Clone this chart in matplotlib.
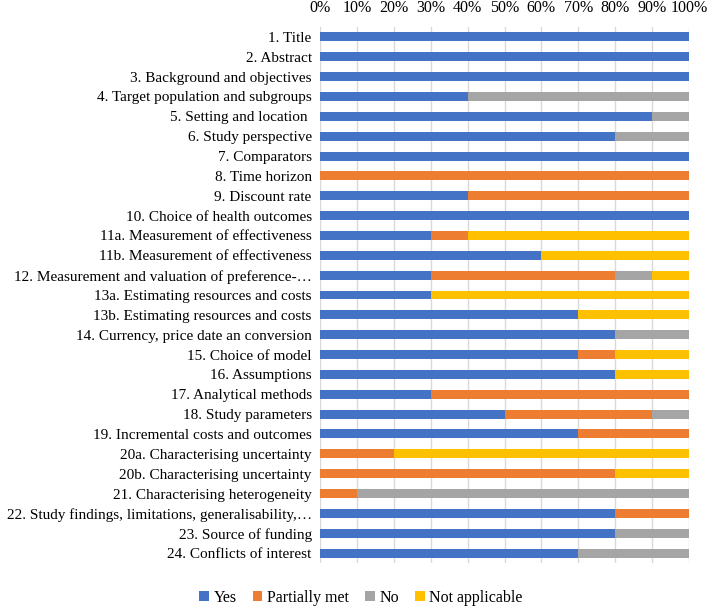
import matplotlib
matplotlib.use("Agg")
import matplotlib.pyplot as plt
import numpy as np

plt.rcParams['font.family'] = ['Liberation Serif', 'DejaVu Serif']

categories = [
    "1. Title", "2. Abstract", "3. Background and objectives",
    "4. Target population and subgroups", "5. Setting and location ",
    "6. Study perspective", "7. Comparators", "8. Time horizon",
    "9. Discount rate", "10. Choice of health outcomes",
    "11a. Measurement of effectiveness", "11b. Measurement of effectiveness",
    "12. Measurement and valuation of preference-\u2026",
    "13a. Estimating resources and costs", "13b. Estimating resources and costs",
    "14. Currency, price date an conversion", "15. Choice of model",
    "16. Assumptions", "17. Analytical methods", "18. Study parameters",
    "19. Incremental costs and outcomes", "20a. Characterising uncertainty",
    "20b. Characterising uncertainty", "21. Characterising heterogeneity",
    "22. Study findings, limitations, generalisability,\u2026",
    "23. Source of funding", "24. Conflicts of interest",
]
yes =     [100, 100, 100, 40, 90, 80, 100, 0, 40, 100, 30, 60, 30, 30, 70, 80, 70, 80, 30, 50, 70, 0, 0, 0, 80, 80, 70]
partial = [0, 0, 0, 0, 0, 0, 0, 100, 60, 0, 10, 0, 50, 0, 0, 0, 10, 0, 70, 40, 30, 20, 80, 10, 20, 0, 0]
no =      [0, 0, 0, 60, 10, 20, 0, 0, 0, 0, 0, 0, 10, 0, 0, 20, 0, 0, 0, 10, 0, 0, 0, 90, 0, 20, 30]
na =      [0, 0, 0, 0, 0, 0, 0, 0, 0, 0, 60, 40, 10, 70, 30, 0, 20, 20, 0, 0, 0, 80, 20, 0, 0, 0, 0]
series_names = ["Yes", "Partially met", "No", "Not applicable"]
xticks = [0, 10, 20, 30, 40, 50, 60, 70, 80, 90, 100]

colors = ["#4472C4", "#ED7D31", "#A5A5A5", "#FFC000"]

fig = plt.figure(figsize=(7.09, 6.08), dpi=100)
ax = fig.add_axes([320/709, 1-563/608, (689-320)/709, (563-27)/608])

y = np.arange(len(categories))
left = np.zeros(len(categories))
for name, vals, c in zip(series_names, [yes, partial, no, na], colors):
    vals = np.array(vals, dtype=float)
    ax.barh(y, vals, left=left, height=0.45, color=c, label=name, zorder=3)
    left += vals

ax.set_ylim(len(categories) - 0.5, -0.5)
ax.set_xlim(0, 100)
ax.set_yticks(y)
ax.set_yticklabels(categories, fontsize=11.0)
ax.set_xticks(xticks)
ax.set_xticklabels([f"{v}%" for v in xticks], fontsize=11.5)
ax.xaxis.tick_top()
ax.tick_params(axis='y', length=0, pad=6)
ax.tick_params(axis='x', length=0, pad=8)
ax.grid(axis='x', color='#D9D9D9', linewidth=1, zorder=0)
for s in ax.spines.values():
    s.set_visible(False)

fig.legend(loc='center', bbox_to_anchor=(361/709, 1-598/608), ncol=4, frameon=False,
           fontsize=11.5, handlelength=0.6, handleheight=0.6, handletextpad=0.3,
           columnspacing=1.0)

fig.savefig("out.png", dpi=100)
